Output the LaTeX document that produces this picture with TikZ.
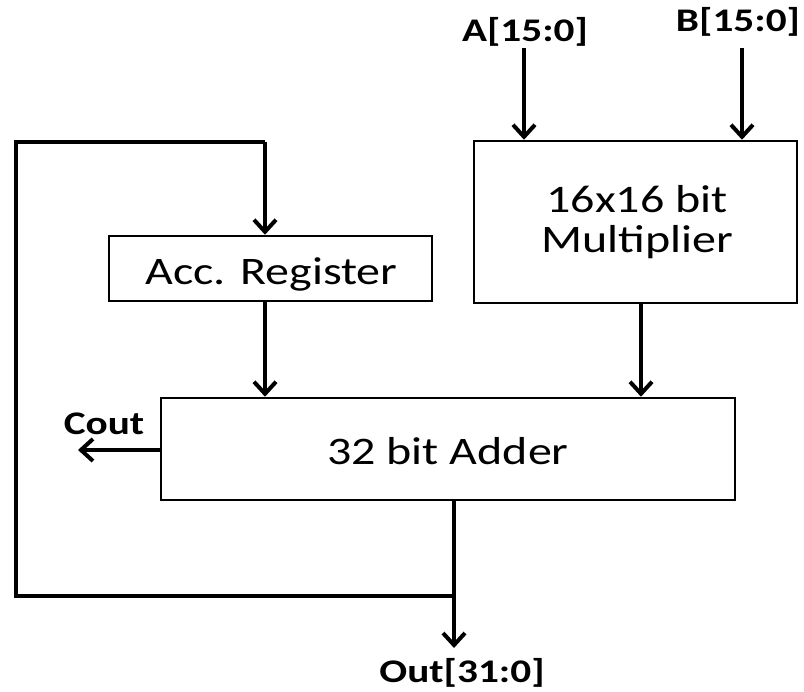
\documentclass[tikz,border=0pt]{standalone}
\usepackage{fontspec}
\setmainfont{Carlito}
\newfontfamily\widefont[FakeStretch=1.23]{Carlito}
\newfontfamily\widebold[FakeStretch=1.25]{Carlito Bold}
\usetikzlibrary{arrows.meta}
\begin{document}
\begin{tikzpicture}[x=1pt,y=-1pt,
  blk/.style={draw,line width=2.5pt,inner sep=0pt},
  blktext/.style={font=\widefont\fontsize{39}{46}\selectfont,anchor=base,inner sep=0pt},
  sig/.style={font=\widebold\fontsize{33}{40}\selectfont,anchor=base,inner sep=0pt},
  wire/.style={line width=4.5pt},
  arr/.style={wire,-{Straight Barb[length=12pt,width=22pt,line width=4pt]}}]
\useasboundingbox (0,0) rectangle (804,692);
% blocks
\node[blk,minimum width=323pt,minimum height=162pt] (mul) at (635.5,222) {};
\node[blktext] (mul1) at (637,213) {16x16 bit};
\node[blktext] (mul2) at (637,253) {Multiplier};
\node[blk,minimum width=323pt,minimum height=65pt] (acc) at (270.5,268.5) {};
\node[blktext] (acct) at (271.5,285) {Acc. Register};
\node[blk,minimum width=574pt,minimum height=102pt] (add) at (448,449) {};
\node[blktext] (addt) at (448,465) {32 bit Adder};
% signal labels
\node[sig] (la) at (525,42) {A[15:0]};
\node[sig] (lb) at (738,32) {B[15:0]};
\node[sig] (lc) at (104,435) {Cout};
\node[sig] (lo) at (462,682) {Out[31:0]};
% free ends and wire columns
\coordinate (ain) at (524,48);
\coordinate (bin) at (742,48);
\coordinate (cout) at (78,450);
\coordinate (tap) at (454,596);
\coordinate (oend) at (454,648);
\coordinate (looptop) at (16,142);
\coordinate (loopbot) at (16,596);
\coordinate (xacc) at (265,142);
\coordinate (xmul) at (641,0);
% inputs to the multiplier
\draw[arr] (ain) -- (ain |- mul.north);
\draw[arr] (bin) -- (bin |- mul.north);
% into the adder
\draw[arr] (xacc |- acc.south) -- (xacc |- add.north);
\draw[arr] (xmul |- mul.south) -- (xmul |- add.north);
% carry out
\draw[arr] (add.west |- cout) -- (cout);
% feedback loop to the accumulator
\draw[wire,line join=miter] (tap) -- (loopbot) -- (looptop) -- (xacc);
\draw[arr] (xacc) -- (xacc |- acc.north);
\draw[wire] (tap |- add.south) -- (tap);
\draw[arr] (tap) -- (oend);
\end{tikzpicture}
\end{document}
